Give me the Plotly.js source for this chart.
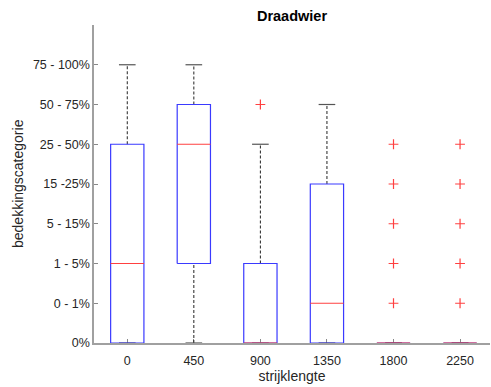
<!DOCTYPE html>
<html>
<head>
<meta charset="utf-8">
<script src="https://cdn.plot.ly/plotly-3.0.1.min.js"></script>
<style>
  html, body { margin: 0; padding: 0; background: #fff; }
  #chart { width: 491px; height: 387px; }
</style>
</head>
<body>
<div id="chart"></div>
<script>
// Cover classes on the y axis (ordinal, index 0..7)
const coverLabels = ['0%', '0 - 1%', '1 - 5%', '5 - 15%', '15 -25%', '25 - 50%', '50 - 75%', '75 - 100%'];
// Fetch lengths on the x axis
const fetchLengths = ['0', '450', '900', '1350', '1800', '2250'];

// Box statistics per fetch length, as cover-class indices
const lowerWhisker = [0, 0, 0, 0, 0, 0];
const q1           = [0, 2, 0, 0, 0, 0];
const median       = [2, 5, 0, 1, 0, 0];
const q3           = [5, 6, 2, 4, 0, 0];
const upperWhisker = [7, 7, 5, 6, 0, 0];
const outliers     = [[], [], [6], [], [1, 2, 3, 4, 5], [1, 2, 3, 4, 5]];

const BOX_HALF = 0.25;   // half box width in category units
const CAP_HALF = 0.125;  // half whisker-cap width

const boxX = [], boxY = [];
const medX = [], medY = [];
const whX = [], whY = [];
const capX = [], capY = [];
const outX = [], outY = [];

fetchLengths.forEach((_, i) => {
  // box outline
  boxX.push(i - BOX_HALF, i + BOX_HALF, i + BOX_HALF, i - BOX_HALF, i - BOX_HALF, null);
  boxY.push(q1[i], q1[i], q3[i], q3[i], q1[i], null);
  // median
  medX.push(i - BOX_HALF, i + BOX_HALF, null);
  medY.push(median[i], median[i], null);
  // whiskers (dashed)
  whX.push(i, i, null, i, i, null);
  whY.push(q3[i], upperWhisker[i], null, lowerWhisker[i], q1[i], null);
  // caps
  capX.push(i - CAP_HALF, i + CAP_HALF, null, i - CAP_HALF, i + CAP_HALF, null);
  capY.push(upperWhisker[i], upperWhisker[i], null, lowerWhisker[i], lowerWhisker[i], null);
  // outliers
  outliers[i].forEach(v => { outX.push(i); outY.push(v); });
});

const traces = [
  { x: whX, y: whY, mode: 'lines', line: { color: '#222', width: 1, dash: '3px,2px' }, hoverinfo: 'skip', cliponaxis: false },
  { x: capX, y: capY, mode: 'lines', line: { color: '#555', width: 1.2 }, hoverinfo: 'skip', cliponaxis: false },
  { x: boxX, y: boxY, mode: 'lines', line: { color: '#3a3aff', width: 1.2 }, hoverinfo: 'skip', cliponaxis: false },
  { x: medX, y: medY, mode: 'lines', line: { color: '#ff4040', width: 1.2 }, hoverinfo: 'skip', cliponaxis: false },
  { x: outX, y: outY, mode: 'markers', cliponaxis: false, hoverinfo: 'skip',
    marker: { symbol: 'cross-thin', size: 7, color: '#ff4040', line: { color: '#ff4040', width: 1.2 } } }
];

const font = { family: 'Liberation Sans, Arial, sans-serif', color: '#262626' };

const axisCommon = {
  tickmode: 'array',
  ticks: 'inside', ticklen: 4, tickcolor: '#888', tickwidth: 1,
  showgrid: false, zeroline: false,
  showline: true, linecolor: '#a0a0a0', linewidth: 1.6,
  tickfont: { size: 12.5, color: '#262626' },
  layer: 'below traces',
  fixedrange: true
};

const layout = {
  width: 491,
  height: 387,
  margin: { l: 94, r: 1, t: 25, b: 44 },
  paper_bgcolor: '#fff',
  plot_bgcolor: '#fff',
  showlegend: false,
  font: Object.assign({ size: 12 }, font),
  title: {
    text: '<b>Draadwier</b>',
    font: { family: font.family, size: 14.5, color: '#000' },
    xref: 'paper', x: 0.5, xanchor: 'center',
    yref: 'container', y: 1 - 16 / 387, yanchor: 'middle'
  },
  xaxis: Object.assign({}, axisCommon, {
    range: [-0.5, 5.45],
    tickvals: fetchLengths.map((_, i) => i),
    ticktext: fetchLengths,
    ticklabelstandoff: 5,
    title: { text: 'strijklengte', font: { size: 14, color: '#262626' }, standoff: 3 }
  }),
  yaxis: Object.assign({}, axisCommon, {
    range: [0, 8],
    tickvals: coverLabels.map((_, i) => i),
    ticktext: coverLabels
  }),
  annotations: [{
    text: 'bedekkingscategorie',
    textangle: -90,
    xref: 'paper', x: (18 - 94) / 396, xanchor: 'center',
    yref: 'paper', y: 0.5, yanchor: 'middle',
    showarrow: false,
    font: { size: 14, color: '#262626' }
  }]
};

Plotly.newPlot('chart', traces, layout, { staticPlot: true, displayModeBar: false });
</script>
</body>
</html>
